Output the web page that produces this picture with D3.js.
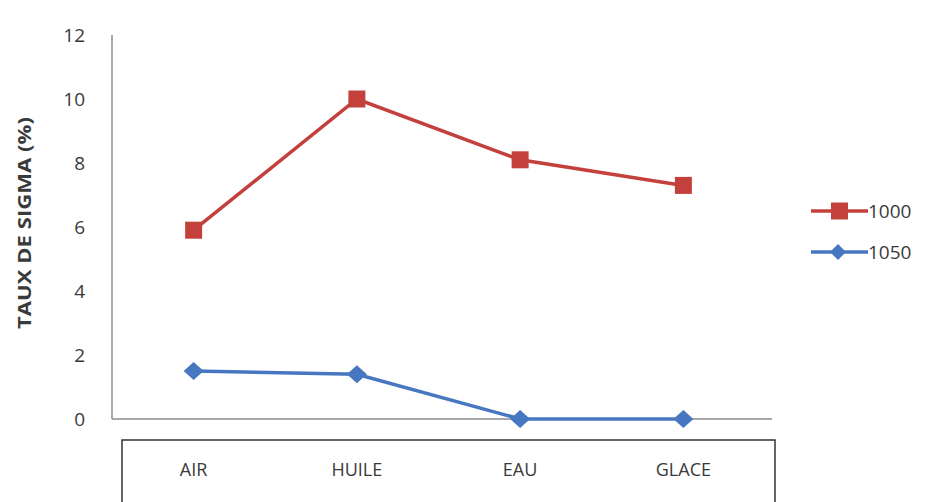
<!DOCTYPE html>
<html><head><meta charset="utf-8">
<script src="https://cdn.jsdelivr.net/npm/d3@7"></script>
<style>body{margin:0;background:#fff}text{font-family:"Open Sans","Liberation Sans",sans-serif}</style>
</head><body>
<svg id="c" width="929" height="502"></svg>
<script>
const categories = ["AIR","HUILE","EAU","GLACE"];
const seriesNames = ["1000","1050"];
const values1000 = [5.9, 10, 8.1, 7.3];
const values1050 = [1.5, 1.4, 0, 0];
const yTicks = [0,2,4,6,8,10,12];

const svg = d3.select("#c");
const x = d3.scaleBand().domain(categories).range([112, 765]);
const y = d3.scaleLinear().domain([0,12]).range([419, 35]);
const txt = "#3a3a3a";

// axes lines
svg.append("line").attr("x1",112).attr("x2",112).attr("y1",y(12)).attr("y2",y(0)).attr("stroke","#8c8c8c").attr("stroke-width",1.5);
svg.append("line").attr("x1",112).attr("x2",772).attr("y1",y(0)).attr("y2",y(0)).attr("stroke","#8c8c8c").attr("stroke-width",1.5);

// y tick labels
svg.selectAll(".yt").data(yTicks).enter().append("text")
  .attr("x",85).attr("y",d=>y(d)).attr("dy","0.36em").attr("text-anchor","end")
  .attr("font-size",19).attr("fill",txt).text(d=>d);

// y title
svg.append("text").attr("transform","translate(31,223) rotate(-90)").attr("text-anchor","middle")
  .attr("font-size",17).attr("font-weight","bold").attr("fill",txt)
  .attr("textLength",212).attr("lengthAdjust","spacingAndGlyphs").text("TAUX DE SIGMA (%)");

// x label box
svg.append("rect").attr("x",122).attr("y",440).attr("width",653).attr("height",70)
  .attr("fill","none").attr("stroke","#333").attr("stroke-width",1.5);
svg.selectAll(".xt").data(categories).enter().append("text")
  .attr("x",d=>x(d)+x.bandwidth()/2).attr("y",470).attr("dy","0.36em").attr("text-anchor","middle")
  .attr("font-size",18).attr("fill",txt).text(d=>d);

const cx = d => x(d)+x.bandwidth()/2;
const line = d3.line().x((d,i)=>cx(categories[i])).y(d=>y(d));
const red = "#c4403c", blue = "#4677c0";
const diamond = "M-10,0L0,-9L10,0L0,9Z";

// 1050 series
svg.append("path").datum(values1050).attr("d",line).attr("fill","none").attr("stroke",blue).attr("stroke-width",3.5);
svg.selectAll(".m2").data(values1050).enter().append("path")
  .attr("d",diamond)
  .attr("transform",(d,i)=>`translate(${cx(categories[i])},${y(d)})`).attr("fill",blue);

// 1000 series
svg.append("path").datum(values1000).attr("d",line).attr("fill","none").attr("stroke",red).attr("stroke-width",3.5);
svg.selectAll(".m1").data(values1000).enter().append("rect")
  .attr("x",(d,i)=>cx(categories[i])-8.5).attr("y",d=>y(d)-8.5).attr("width",17).attr("height",17).attr("fill",red);

// legend
const lg = [{n:seriesNames[0],c:red,s:"sq",y:211},{n:seriesNames[1],c:blue,s:"di",y:252}];
lg.forEach(l=>{
  svg.append("line").attr("x1",811).attr("x2",868).attr("y1",l.y).attr("y2",l.y).attr("stroke",l.c).attr("stroke-width",3.5);
  if(l.s==="sq") svg.append("rect").attr("x",831).attr("y",l.y-8.5).attr("width",17).attr("height",17).attr("fill",l.c);
  else svg.append("path").attr("d","M-8,0L0,-8L8,0L0,8Z").attr("transform",`translate(838,${l.y})`).attr("fill",l.c);
  svg.append("text").attr("x",868).attr("y",l.y).attr("dy","0.36em").attr("font-size",19).attr("fill",txt).text(l.n);
});
</script>
</body></html>
